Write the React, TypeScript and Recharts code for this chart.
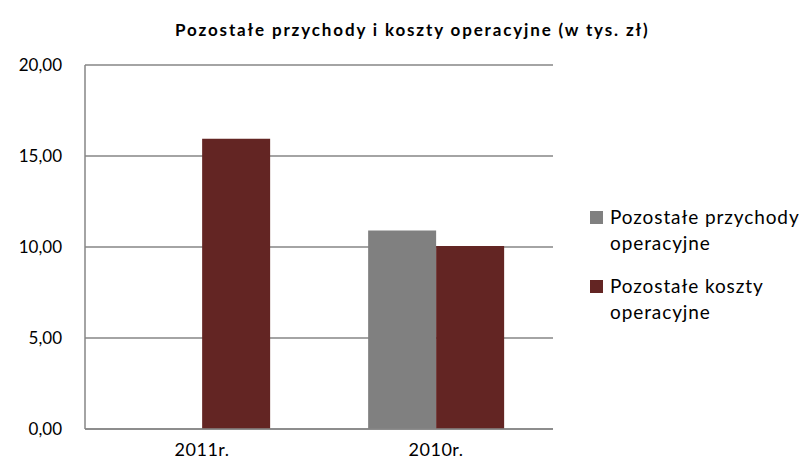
import { BarChart, Bar, XAxis, YAxis, CartesianGrid } from "recharts";

const categories = ["2011r.", "2010r."];
const przychody = [0, 10.9];
const koszty = [15.95, 10.05];
const yTicks = [0, 5, 10, 15, 20];

const seriesNames = ["Pozostałe przychody operacyjne", "Pozostałe koszty operacyjne"];
const seriesColors = ["#808080", "#632523"];

const data = categories.map((c, i) => ({
  name: c,
  przychody: przychody[i],
  koszty: koszty[i],
}));

const FONT = "Lato, 'Noto Sans', sans-serif";

const LegendBox = () => (
  <div
    style={{
      position: "absolute",
      left: 590,
      top: 204,
      width: 209,
      fontFamily: FONT,
      fontSize: 19,
      letterSpacing: 0.9,
      color: "#000",
      lineHeight: "26px",
    }}
  >
    {seriesNames.map((name, i) => {
      const words = name.split(" ");
      return (
        <div key={name} style={{ position: "relative", paddingLeft: 20, marginBottom: 17, whiteSpace: "nowrap" }}>
          <span
            style={{
              position: "absolute",
              left: 0,
              top: 7,
              width: 13,
              height: 13,
              background: seriesColors[i],
            }}
          />
          <div>{words.slice(0, -1).join(" ")}</div>
          <div>{words[words.length - 1]}</div>
        </div>
      );
    })}
  </div>
);

export default function App() {
  return (
    <div style={{ position: "absolute", left: 0, top: 0, width: 799, height: 468, background: "#fff" }}>
      <div
        style={{
          position: "absolute",
          top: 19,
          left: 175,
          whiteSpace: "nowrap",
          fontFamily: FONT,
          fontWeight: "bold",
          fontSize: 17,
          letterSpacing: 1.85,
          color: "#000",
        }}
      >
        Pozostałe przychody i koszty operacyjne (w tys. zł)
      </div>
      <BarChart
        width={799}
        height={468}
        data={data}
        margin={{ top: 65, right: 246, bottom: 9, left: 0 }}
        barCategoryGap="21%"
        barGap={0}
      >
        <CartesianGrid vertical={false} stroke="#868686" strokeWidth={1.5} />
        <XAxis
          dataKey="name"
          height={30}
          tickLine={false}
          tickSize={0}
          tickMargin={14}
          axisLine={{ stroke: "#868686", strokeWidth: 1.5 }}
          tick={{ fill: "#000", fontSize: 18, fontFamily: FONT, letterSpacing: 0.5 }}
        />
        <YAxis
          width={85}
          domain={[0, 20]}
          ticks={yTicks}
          interval={0}
          tickLine={false}
          tickSize={0}
          tickMargin={23}
          axisLine={{ stroke: "#868686", strokeWidth: 1.5 }}
          tickFormatter={(v: number) => v.toFixed(2).replace(".", ",")}
          tick={{ fill: "#000", fontSize: 17, fontFamily: FONT }}
        />
        <Bar dataKey="przychody" name={seriesNames[0]} fill={seriesColors[0]} isAnimationActive={false} />
        <Bar dataKey="koszty" name={seriesNames[1]} fill={seriesColors[1]} isAnimationActive={false} />
      </BarChart>
      <LegendBox />
    </div>
  );
}
